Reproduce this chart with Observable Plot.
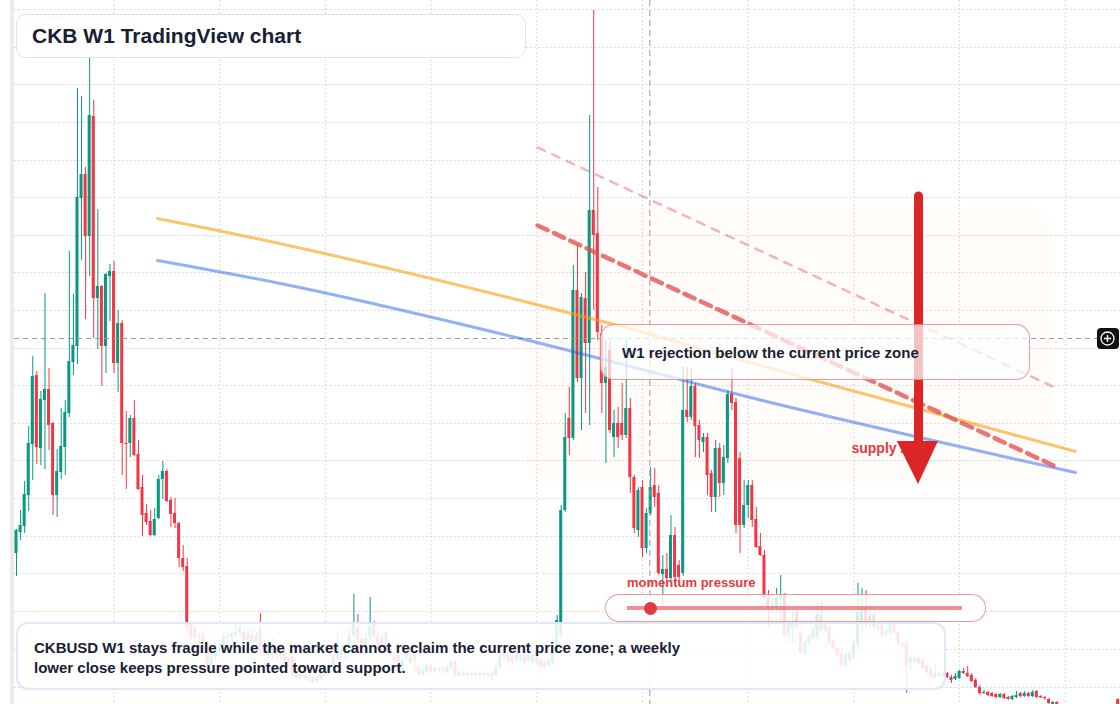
<!DOCTYPE html>
<html>
<head>
<meta charset="utf-8">
<script src="https://cdn.jsdelivr.net/npm/d3@7"></script>
<script src="https://cdn.jsdelivr.net/npm/@observablehq/plot@0.6"></script>
<style>
html,body{margin:0;padding:0;background:#fff;}
#wrap{position:relative;width:1120px;height:704px;overflow:hidden;background:#fff;font-family:"Liberation Sans",Arial,Helvetica,sans-serif;}
#chart{position:absolute;left:0;top:0;}
.ov{position:absolute;box-sizing:border-box;}
.txt{position:absolute;white-space:nowrap;font-weight:bold;color:#172133;}
.band{left:10px;top:0;width:4px;height:704px;background:#ebebeb;}
.titlebox{left:16px;top:14px;width:510px;height:44px;border:1.5px solid #d6e4f7;border-radius:10px;background:rgba(255,255,255,0.95);}
.captionbox{left:16px;top:622px;width:930px;height:68px;border:2px solid #dde8fb;border-radius:12px;background:rgba(255,255,255,0.87);}
.calloutbox{left:600px;top:324px;width:430px;height:56px;border:1.5px solid rgba(230,70,70,0.55);border-radius:14px;background:rgba(255,255,255,0.72);}
.capsule{left:605px;top:594px;width:381px;height:28px;border:1.5px solid rgba(230,70,70,0.55);border-radius:14px;background:rgba(255,255,255,0.82);}
.gauge{left:627px;top:606px;width:335px;height:4px;background:rgba(229,72,77,0.6);}
.dot{left:643.5px;top:601.5px;width:13px;height:13px;border-radius:50%;background:#e03a3e;}
.btn{left:1097px;top:328px;width:22px;height:21px;border-radius:4px;background:#111;}
</style>
</head>
<body>
<div id="wrap">
  <div id="chart"></div>
  <div class="ov band"></div>
  <div class="ov titlebox"></div>
  <div class="txt" style="left:32px;top:24px;font-size:21px;line-height:24px;">CKB W1 TradingView chart</div>
  <div class="ov calloutbox"></div>
  <div class="txt" style="left:622px;top:343px;font-size:15px;line-height:20px;">W1 rejection below the current price zone</div>
  <div class="txt" style="left:627px;top:574.5px;font-size:13px;line-height:16px;color:#e5393e;">momentum pressure</div>
  <div class="ov capsule"></div>
  <div class="ov gauge"></div>
  <div class="ov dot"></div>
  <div class="ov captionbox"></div>
  <div class="txt" style="left:34px;top:638px;font-size:15px;line-height:20px;">CKBUSD W1 stays fragile while the market cannot reclaim the current price zone; a weekly<br>lower close keeps pressure pointed toward support.</div>
  <div class="ov btn"><svg width="22" height="21" viewBox="0 0 22 21"><circle cx="10.5" cy="10.5" r="6.5" fill="none" stroke="#fff" stroke-width="1.3"/><path d="M10.5 7v7M7 10.5h7" stroke="#fff" stroke-width="1.4"/></svg></div>
</div>
<script>
// Weekly CKBUSD candles (USD), one entry per week, oldest first
const open = [860e-5,965e-5,995e-5,1150e-5,1405e-5,1750e-5,1385e-5,1625e-5,1680e-5,1510e-5,
1150e-5,1265e-5,1390e-5,1560e-5,1815e-5,1895e-5,2635e-5,2755e-5,2445e-5,3045e-5,
2135e-5,2195e-5,1895e-5,2245e-5,2270e-5,1810e-5,2010e-5,1410e-5,1410e-5,1535e-5,
1355e-5,1190e-5,1060e-5,1020e-5,950e-5,1035e-5,1230e-5,1270e-5,1125e-5,1060e-5,
1010e-5,835e-5,795e-5,505e-5,485e-5,435e-5,450e-5,410e-5,300e-5,340e-5,
365e-5,385e-5,435e-5,440e-5,450e-5,460e-5,465e-5,425e-5,455e-5,415e-5,
475e-5,400e-5,350e-5,410e-5,350e-5,385e-5,365e-5,340e-5,340e-5,260e-5,
235e-5,250e-5,245e-5,240e-5,220e-5,235e-5,250e-5,265e-5,290e-5,340e-5,
350e-5,350e-5,390e-5,450e-5,485e-5,435e-5,400e-5,440e-5,510e-5,450e-5,
435e-5,460e-5,385e-5,340e-5,350e-5,275e-5,340e-5,310e-5,360e-5,285e-5,
250e-5,265e-5,300e-5,265e-5,275e-5,280e-5,265e-5,285e-5,315e-5,250e-5,
260e-5,250e-5,260e-5,250e-5,260e-5,250e-5,260e-5,260e-5,250e-5,290e-5,
340e-5,360e-5,340e-5,325e-5,325e-5,350e-5,325e-5,315e-5,375e-5,325e-5,
315e-5,300e-5,310e-5,375e-5,450e-5,1075e-5,1535e-5,1435e-5,2175e-5,1735e-5,
2135e-5,1910e-5,2575e-5,2460e-5,1960e-5,1710e-5,1875e-5,1440e-5,1510e-5,1510e-5,
1450e-5,1585e-5,1240e-5,975e-5,1190e-5,885e-5,1060e-5,1200e-5,1160e-5,755e-5,
780e-5,735e-5,950e-5,800e-5,760e-5,1575e-5,1540e-5,1695e-5,1500e-5,1415e-5,
1440e-5,1260e-5,1140e-5,1385e-5,1210e-5,1335e-5,1655e-5,1615e-5,1335e-5,1000e-5,
1100e-5,1200e-5,1030e-5,895e-5,850e-5,635e-5,585e-5,585e-5,635e-5,650e-5,
450e-5,485e-5,565e-5,460e-5,360e-5,410e-5,435e-5,440e-5,550e-5,475e-5,
485e-5,425e-5,385e-5,360e-5,300e-5,325e-5,335e-5,410e-5,500e-5,585e-5,
515e-5,550e-5,500e-5,500e-5,460e-5,460e-5,515e-5,465e-5,410e-5,410e-5,
310e-5,320e-5,335e-5,325e-5,300e-5,285e-5,240e-5,245e-5,245e-5,260e-5,
240e-5,230e-5,235e-5,270e-5,260e-5,250e-5,225e-5,190e-5,160e-5,165e-5,
160e-5,155e-5,140e-5,155e-5,140e-5,130e-5,140e-5,160e-5,145e-5,160e-5,
145e-5,170e-5,145e-5,140e-5,130e-5,105e-5,115e-5,100e-5,90e-5,95e-5,
85e-5,92e-5,88e-5,83e-5,90e-5,87e-5,92e-5,89e-5,94e-5,97e-5,
92e-5,130e-5];
const high = [980e-5,1075e-5,1220e-5,1495e-5,1845e-5,1770e-5,1670e-5,2160e-5,1785e-5,1515e-5,
1380e-5,1585e-5,1625e-5,2370e-5,2155e-5,3185e-5,3145e-5,2790e-5,3335e-5,3125e-5,
2580e-5,2200e-5,2260e-5,2305e-5,2320e-5,2075e-5,2025e-5,1570e-5,1550e-5,1625e-5,
1425e-5,1250e-5,1105e-5,1075e-5,1085e-5,1250e-5,1320e-5,1280e-5,1140e-5,1135e-5,
1015e-5,900e-5,835e-5,515e-5,495e-5,465e-5,465e-5,425e-5,360e-5,410e-5,
425e-5,465e-5,460e-5,475e-5,510e-5,505e-5,485e-5,485e-5,475e-5,465e-5,
560e-5,425e-5,425e-5,435e-5,400e-5,400e-5,385e-5,355e-5,350e-5,275e-5,
265e-5,260e-5,255e-5,250e-5,245e-5,275e-5,300e-5,310e-5,350e-5,475e-5,
400e-5,410e-5,490e-5,655e-5,555e-5,455e-5,465e-5,640e-5,520e-5,465e-5,
455e-5,475e-5,400e-5,355e-5,360e-5,335e-5,375e-5,350e-5,385e-5,300e-5,
290e-5,305e-5,310e-5,295e-5,290e-5,290e-5,300e-5,325e-5,325e-5,275e-5,
270e-5,270e-5,270e-5,270e-5,270e-5,270e-5,270e-5,270e-5,305e-5,365e-5,
375e-5,375e-5,355e-5,365e-5,365e-5,365e-5,365e-5,375e-5,385e-5,335e-5,
325e-5,340e-5,440e-5,550e-5,1100e-5,1560e-5,1690e-5,2300e-5,2400e-5,2160e-5,
2265e-5,3050e-5,3575e-5,2690e-5,2000e-5,1925e-5,1925e-5,1575e-5,1590e-5,1710e-5,
1925e-5,1635e-5,1250e-5,1190e-5,1225e-5,1085e-5,1290e-5,1285e-5,1200e-5,850e-5,
860e-5,1050e-5,990e-5,825e-5,1790e-5,1790e-5,1790e-5,1710e-5,1525e-5,1460e-5,
1460e-5,1275e-5,1425e-5,1410e-5,1400e-5,1675e-5,1785e-5,1635e-5,1365e-5,1225e-5,
1225e-5,1225e-5,1090e-5,960e-5,875e-5,675e-5,635e-5,685e-5,750e-5,660e-5,
525e-5,575e-5,585e-5,475e-5,425e-5,450e-5,490e-5,620e-5,620e-5,525e-5,
500e-5,435e-5,395e-5,375e-5,365e-5,375e-5,425e-5,710e-5,685e-5,675e-5,
585e-5,565e-5,515e-5,515e-5,485e-5,525e-5,525e-5,475e-5,420e-5,425e-5,
345e-5,345e-5,345e-5,335e-5,310e-5,295e-5,310e-5,265e-5,265e-5,265e-5,
250e-5,260e-5,275e-5,285e-5,295e-5,260e-5,235e-5,200e-5,175e-5,170e-5,
165e-5,160e-5,160e-5,160e-5,145e-5,150e-5,170e-5,165e-5,170e-5,165e-5,
175e-5,175e-5,150e-5,145e-5,135e-5,120e-5,120e-5,104e-5,98e-5,100e-5,
95e-5,98e-5,96e-5,94e-5,100e-5,96e-5,100e-5,97e-5,103e-5,104e-5,
102e-5,132e-5];
const low = [745e-5,925e-5,960e-5,1070e-5,1225e-5,1305e-5,1300e-5,1280e-5,1375e-5,1050e-5,
1040e-5,1230e-5,1250e-5,1540e-5,1750e-5,1805e-5,2325e-5,2030e-5,2245e-5,1935e-5,
1880e-5,1695e-5,1760e-5,2020e-5,1760e-5,1665e-5,1250e-5,1180e-5,1340e-5,1345e-5,
1175e-5,945e-5,1000e-5,945e-5,945e-5,1030e-5,1130e-5,1115e-5,990e-5,985e-5,
790e-5,770e-5,465e-5,425e-5,410e-5,390e-5,360e-5,290e-5,285e-5,325e-5,
355e-5,375e-5,410e-5,390e-5,440e-5,445e-5,415e-5,400e-5,385e-5,395e-5,
360e-5,345e-5,335e-5,325e-5,325e-5,325e-5,305e-5,290e-5,240e-5,225e-5,
220e-5,225e-5,215e-5,205e-5,205e-5,225e-5,240e-5,250e-5,275e-5,325e-5,
335e-5,325e-5,385e-5,440e-5,415e-5,365e-5,385e-5,425e-5,440e-5,390e-5,
385e-5,375e-5,340e-5,315e-5,305e-5,265e-5,325e-5,300e-5,260e-5,240e-5,
240e-5,255e-5,255e-5,255e-5,265e-5,260e-5,255e-5,275e-5,240e-5,240e-5,
240e-5,240e-5,240e-5,240e-5,240e-5,240e-5,235e-5,225e-5,240e-5,280e-5,
330e-5,315e-5,305e-5,315e-5,315e-5,300e-5,315e-5,305e-5,295e-5,280e-5,
280e-5,290e-5,300e-5,365e-5,425e-5,1065e-5,1350e-5,1425e-5,1715e-5,1475e-5,
1560e-5,1500e-5,2075e-5,1925e-5,1560e-5,1310e-5,1460e-5,1340e-5,1385e-5,1425e-5,
1435e-5,1160e-5,960e-5,940e-5,840e-5,860e-5,1050e-5,1090e-5,750e-5,585e-5,
725e-5,725e-5,725e-5,725e-5,745e-5,1515e-5,1525e-5,1340e-5,1335e-5,1365e-5,
1150e-5,1065e-5,1065e-5,1140e-5,1150e-5,1310e-5,1575e-5,960e-5,860e-5,985e-5,
1035e-5,990e-5,885e-5,845e-5,625e-5,485e-5,565e-5,565e-5,525e-5,440e-5,
410e-5,410e-5,475e-5,350e-5,350e-5,395e-5,425e-5,425e-5,465e-5,460e-5,
400e-5,375e-5,335e-5,290e-5,285e-5,315e-5,325e-5,375e-5,465e-5,485e-5,
490e-5,475e-5,470e-5,440e-5,445e-5,445e-5,455e-5,400e-5,385e-5,160e-5,
275e-5,310e-5,300e-5,275e-5,255e-5,235e-5,235e-5,235e-5,240e-5,235e-5,
210e-5,225e-5,230e-5,255e-5,240e-5,215e-5,185e-5,150e-5,155e-5,145e-5,
140e-5,135e-5,135e-5,130e-5,125e-5,125e-5,135e-5,140e-5,140e-5,140e-5,
140e-5,135e-5,135e-5,125e-5,105e-5,95e-5,90e-5,85e-5,82e-5,80e-5,
78e-5,84e-5,80e-5,78e-5,85e-5,80e-5,86e-5,82e-5,88e-5,90e-5,
86e-5,85e-5];
const close = [975e-5,1000e-5,1155e-5,1410e-5,1745e-5,1390e-5,1630e-5,1680e-5,1500e-5,1150e-5,
1270e-5,1395e-5,1565e-5,1820e-5,1900e-5,2640e-5,2755e-5,2445e-5,3050e-5,2135e-5,
2195e-5,1895e-5,2255e-5,2270e-5,1810e-5,2010e-5,1410e-5,1405e-5,1535e-5,1350e-5,
1180e-5,1050e-5,1015e-5,950e-5,1030e-5,1230e-5,1270e-5,1120e-5,1055e-5,1010e-5,
835e-5,790e-5,485e-5,440e-5,440e-5,450e-5,390e-5,300e-5,340e-5,375e-5,
385e-5,440e-5,445e-5,460e-5,465e-5,485e-5,425e-5,460e-5,415e-5,445e-5,
375e-5,360e-5,400e-5,350e-5,385e-5,345e-5,325e-5,315e-5,250e-5,235e-5,
250e-5,235e-5,230e-5,215e-5,235e-5,260e-5,285e-5,290e-5,335e-5,390e-5,
375e-5,390e-5,450e-5,510e-5,425e-5,375e-5,435e-5,495e-5,450e-5,400e-5,
400e-5,390e-5,350e-5,325e-5,315e-5,325e-5,360e-5,340e-5,325e-5,250e-5,
275e-5,295e-5,265e-5,285e-5,280e-5,270e-5,290e-5,315e-5,250e-5,265e-5,
250e-5,260e-5,250e-5,260e-5,250e-5,260e-5,245e-5,240e-5,290e-5,350e-5,
355e-5,325e-5,315e-5,350e-5,350e-5,315e-5,350e-5,350e-5,310e-5,290e-5,
290e-5,325e-5,375e-5,525e-5,1075e-5,1440e-5,1435e-5,2175e-5,1735e-5,2140e-5,
1910e-5,2575e-5,2450e-5,1965e-5,1710e-5,1790e-5,1475e-5,1510e-5,1440e-5,1450e-5,
1585e-5,1240e-5,985e-5,1175e-5,885e-5,1060e-5,1190e-5,1140e-5,760e-5,780e-5,
735e-5,950e-5,740e-5,740e-5,1575e-5,1540e-5,1695e-5,1495e-5,1425e-5,1440e-5,
1250e-5,1140e-5,1385e-5,1210e-5,1340e-5,1655e-5,1610e-5,1000e-5,1000e-5,1100e-5,
1200e-5,1025e-5,890e-5,850e-5,635e-5,575e-5,600e-5,635e-5,650e-5,450e-5,
510e-5,505e-5,495e-5,360e-5,415e-5,440e-5,475e-5,550e-5,475e-5,505e-5,
415e-5,385e-5,350e-5,300e-5,350e-5,360e-5,410e-5,565e-5,585e-5,515e-5,
550e-5,490e-5,485e-5,450e-5,475e-5,510e-5,465e-5,410e-5,400e-5,290e-5,
335e-5,335e-5,310e-5,285e-5,265e-5,240e-5,260e-5,260e-5,255e-5,240e-5,
225e-5,245e-5,270e-5,260e-5,245e-5,220e-5,190e-5,160e-5,165e-5,150e-5,
145e-5,140e-5,155e-5,135e-5,130e-5,145e-5,150e-5,145e-5,160e-5,145e-5,
165e-5,140e-5,138e-5,135e-5,110e-5,115e-5,105e-5,90e-5,95e-5,85e-5,
92e-5,88e-5,83e-5,90e-5,87e-5,92e-5,89e-5,94e-5,97e-5,92e-5,
99e-5,90e-5];

// Axis / grid positions (week index for time grid, USD for price grid)
const gridWeeks = [24, 50, 76, 102, 128, 154, 180, 206, 232, 258];
const gridPrices = [0.0358,0.0339,0.03205,0.03015,0.02825,0.0264,0.0245,0.02265,0.02075,0.01885,0.017,0.0151,0.01325,0.01135,0.00945,0.0076,0.0057,0.0038,0.0019];
const viewWeeks = [-3.936, 271.587];
const viewPrices = [0.00105, 0.03625];

// Moving-average style guides (week index, price)
const maSlowWeeks  = [34.7, 45.3, 124.0, 146.1, 183.0, 260.5];
const maSlowPrices = [0.02535, 0.024925, 0.02125, 0.0201, 0.018, 0.0137];
const maFastWeeks  = [34.7, 64.9, 124.0, 185.5, 260.5];
const maFastPrices = [0.02325, 0.0221, 0.01935, 0.01615, 0.01265];

// Descending resistance lines
const resistanceMain  = {weeks: [128.2, 255.1], prices: [0.025, 0.013]};
const resistanceUpper = {weeks: [128.2, 254.9], prices: [0.0289, 0.01695]};

// Supply zone, crosshair, arrow
const supplyZone = {w1: 125.7, w2: 254.9, p1: 0.01215, p2: 0.0259};
const supplyLabel = {week: 205.4, price: 0.013825, text: "supply zone"};
const crosshair = {week: 155.8, price: 0.01935, w1: -0.49, w2: 265.9};
const arrowWeek = 221.9;
const arrowShaft = {from: 0.02645, to: 0.014};
const arrowHeadWeeks = [216.7, 221.9, 226.8];
const arrowHeadPrices = [0.0142, 0.01205, 0.0142];

const candles = open.map((o, i) => ({i, o, h: high[i], l: low[i], c: close[i]}));
const upC = candles.filter(d => d.c >= d.o);
const dnC = candles.filter(d => d.c < d.o);
const UP = "#089981", DOWN = "#f23645";
const maSlow = maSlowWeeks.map((w, k) => ({w, p: maSlowPrices[k]}));
const maFast = maFastWeeks.map((w, k) => ({w, p: maFastPrices[k]}));
const resMain = resistanceMain.weeks.map((w, k) => ({w, p: resistanceMain.prices[k]}));
const resUp = resistanceUpper.weeks.map((w, k) => ({w, p: resistanceUpper.prices[k]}));
const head = arrowHeadWeeks.map((w, k) => ({w, p: arrowHeadPrices[k], top: arrowHeadPrices[0]}));
const half = 0.37;

const chart = Plot.plot({
  width: 1120, height: 704,
  marginTop: 0, marginRight: 0, marginBottom: 0, marginLeft: 0,
  x: {domain: viewWeeks, axis: null},
  y: {domain: viewPrices, axis: null},
  style: {background: "transparent", fontFamily: "Liberation Sans, Arial, sans-serif"},
  marks: [
    Plot.rect([supplyZone], {x1: "w1", x2: "w2", y1: "p1", y2: "p2", fill: "#f97316", fillOpacity: 0.022, rx: 22}),
    Plot.ruleX(gridWeeks, {stroke: "#d2d2d2", strokeWidth: 1, strokeDasharray: "1.5,2.5"}),
    Plot.ruleY(gridPrices, {x1: crosshair.w1, x2: viewWeeks[1], stroke: "#d2d2d2", strokeWidth: 1, strokeDasharray: "1.5,2.5"}),
    Plot.ruleX(upC, {x: "i", y1: "l", y2: "h", stroke: UP, strokeWidth: 1}),
    Plot.ruleX(dnC, {x: "i", y1: "l", y2: "h", stroke: DOWN, strokeWidth: 1}),
    Plot.rect(upC, {x1: d => d.i - half, x2: d => d.i + half, y1: "o", y2: "c", fill: UP}),
    Plot.rect(dnC, {x1: d => d.i - half, x2: d => d.i + half, y1: "o", y2: "c", fill: DOWN}),
    Plot.ruleX([crosshair], {x: "week", stroke: "#9a9a9a", strokeWidth: 1, strokeDasharray: "6,4"}),
    Plot.ruleY([crosshair], {y: "price", x1: "w1", x2: "w2", stroke: "#9a9a9a", strokeWidth: 1, strokeDasharray: "5,4"}),
    Plot.line(maSlow, {x: "w", y: "p", stroke: "#f59e0b", strokeOpacity: 0.6, strokeWidth: 3, curve: "monotone-x"}),
    Plot.line(maFast, {x: "w", y: "p", stroke: "#2563eb", strokeOpacity: 0.5, strokeWidth: 3, curve: "monotone-x"}),
    Plot.line(resUp, {x: "w", y: "p", stroke: "#e34848", strokeOpacity: 0.4, strokeWidth: 2.5, strokeDasharray: "8,8"}),
    Plot.line(resMain, {x: "w", y: "p", stroke: "#e34848", strokeOpacity: 0.75, strokeWidth: 4.5, strokeDasharray: "11,7"}),
    Plot.text([supplyLabel], {x: "week", y: "price", text: "text", fill: "#e5393e", fontSize: 14, fontWeight: "bold", textAnchor: "start"}),
    Plot.ruleX([arrowWeek], {x: d => d, y1: arrowShaft.from, y2: arrowShaft.to, stroke: "#dc2626", strokeWidth: 9, strokeLinecap: "round"}),
    Plot.areaY(head, {x: "w", y1: "top", y2: "p", fill: "#dc2626"})
  ]
});
document.getElementById("chart").appendChild(chart);
</script>
</body>
</html>
